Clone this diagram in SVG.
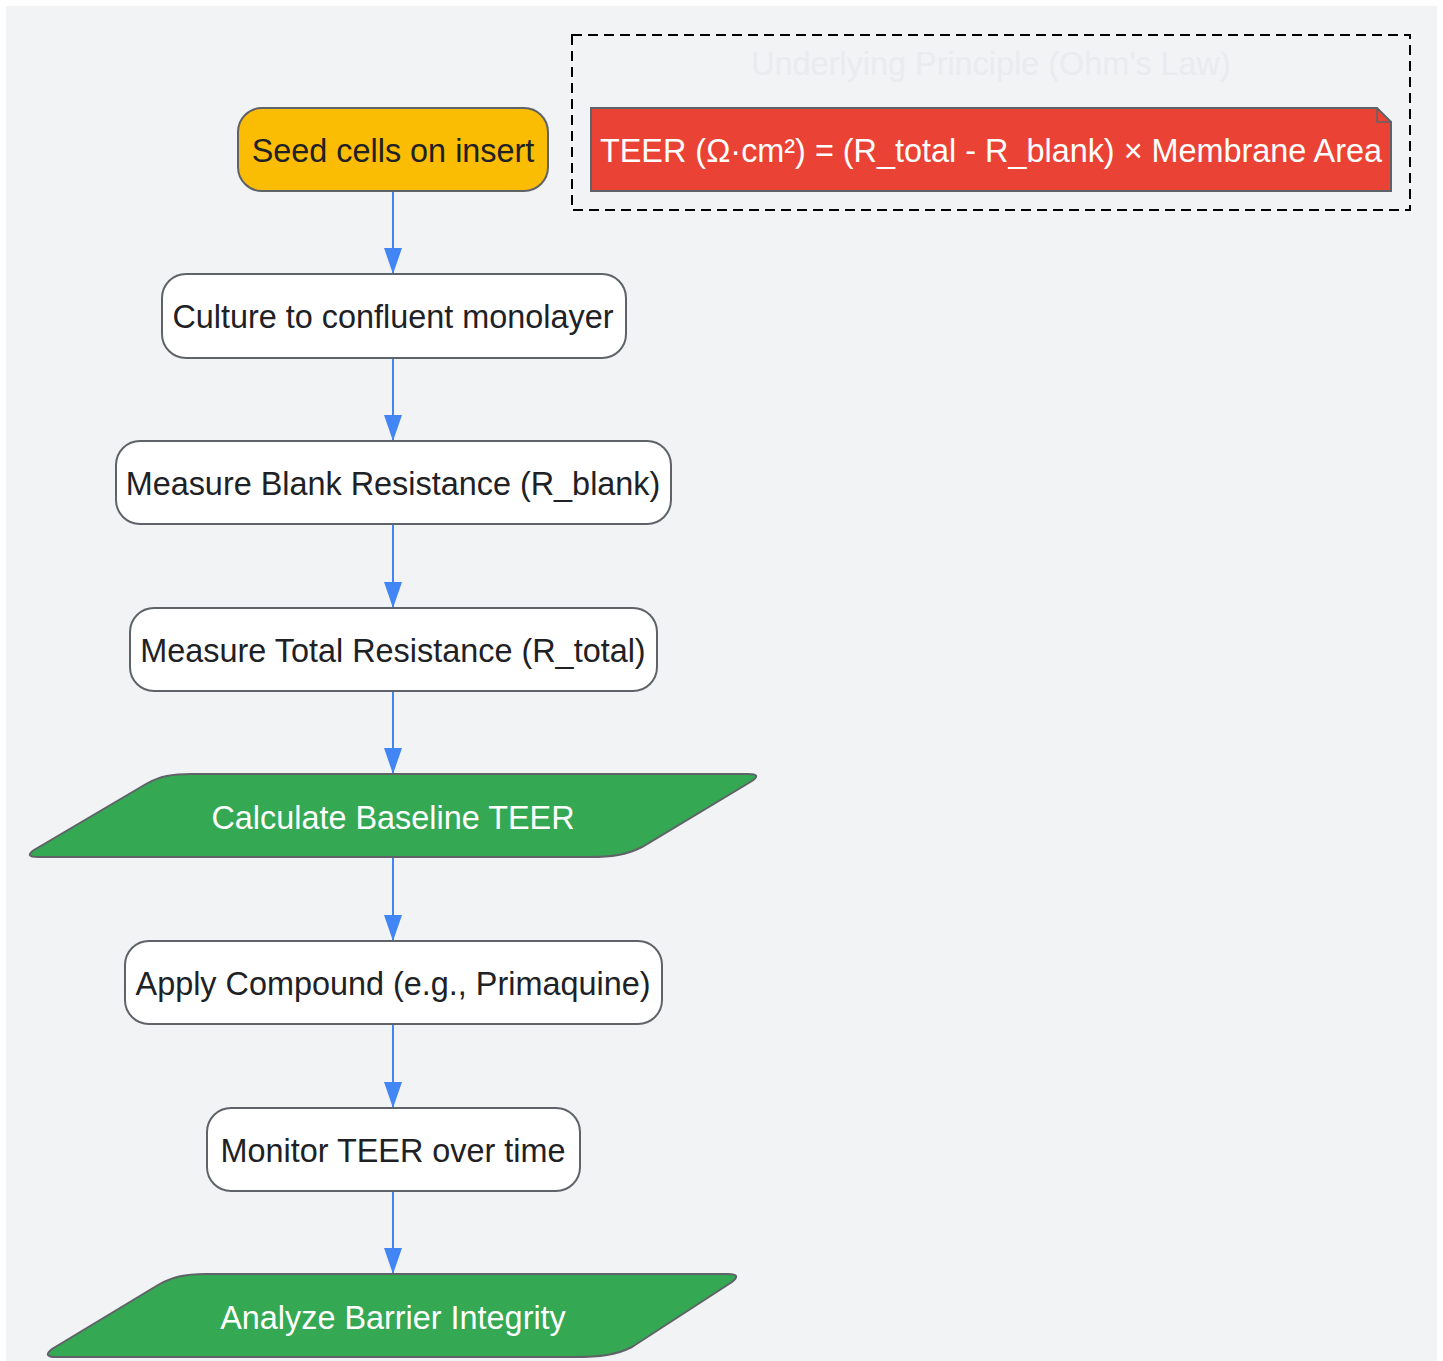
<svg xmlns="http://www.w3.org/2000/svg" width="1443" height="1361" viewBox="0 0 1443 1361">
<defs>
<style>
.bg{fill:#f1f3f5}
.node{stroke:#5f6368;stroke-width:2}
.white{fill:#ffffff}
.yellow{fill:#fbbc04}
.green{fill:#34a853}
.red{fill:#ea4335}
.t{font-family:"Liberation Sans",Arial,Helvetica,sans-serif;font-size:32.4px;text-anchor:middle}
.dark{fill:#202124}
.light{fill:#ffffff}
.edge{stroke:#4285f4;stroke-width:2;fill:none}
.cluster{fill:none;stroke:#000000;stroke-width:2;stroke-dasharray:10 6}
</style>
<marker id="arrow" markerWidth="26" markerHeight="18" refX="26" refY="9" orient="auto" markerUnits="userSpaceOnUse">
<path d="M0,0 L26,9 L0,18 Z" fill="#4285f4"/>
</marker>
</defs>
<rect x="0" y="0" width="1443" height="1361" fill="#ffffff"/>
<rect class="bg" x="6" y="6" width="1431" height="1361"/>

<g id="cluster-principle">
<rect class="cluster" x="572" y="35" width="838" height="175"/>
<text class="t" x="991" y="75" fill="#e9ebee">Underlying Principle (Ohm's Law)</text>
</g>

<g id="edges">
<line class="edge" x1="393" y1="191" x2="393" y2="274" marker-end="url(#arrow)"/>
<line class="edge" x1="393" y1="358" x2="393" y2="441" marker-end="url(#arrow)"/>
<line class="edge" x1="393" y1="524" x2="393" y2="608" marker-end="url(#arrow)"/>
<line class="edge" x1="393" y1="691" x2="393" y2="774" marker-end="url(#arrow)"/>
<line class="edge" x1="393" y1="857" x2="393" y2="941" marker-end="url(#arrow)"/>
<line class="edge" x1="393" y1="1024" x2="393" y2="1108" marker-end="url(#arrow)"/>
<line class="edge" x1="393" y1="1191" x2="393" y2="1274" marker-end="url(#arrow)"/>
</g>

<g id="node-note">
<path class="node red" d="M591,108 L1377,108 L1391,122 L1391,191 L591,191 Z"/>
<path d="M1377,108 L1377,122 L1391,122" fill="none" stroke="#5f6368" stroke-width="1.5"/>
<text class="t light" x="991" y="162">TEER (Ω·cm²) = (R_total - R_blank) × Membrane Area</text>
</g>

<g id="node-seed">
<rect class="node yellow" x="238" y="108" width="310" height="83" rx="24" ry="24"/>
<text class="t dark" x="393" y="162">Seed cells on insert</text>
</g>

<g id="node-culture">
<rect class="node white" x="162" y="274" width="464" height="84" rx="24" ry="24"/>
<text class="t dark" x="393" y="328">Culture to confluent monolayer</text>
</g>

<g id="node-blank">
<rect class="node white" x="116" y="441" width="555" height="83" rx="24" ry="24"/>
<text class="t dark" x="393" y="495">Measure Blank Resistance (R_blank)</text>
</g>

<g id="node-total">
<rect class="node white" x="130" y="608" width="527" height="83" rx="24" ry="24"/>
<text class="t dark" x="393" y="662">Measure Total Resistance (R_total)</text>
</g>

<g id="node-baseline">
<path class="node green" d="M192,774 L748,774 Q762,774 752,781 L642,847 C626,855 612,857 590,857 L38,857 Q24,857 34,850 L146,784 C160,776 172,774 192,774 Z"/>
<text class="t light" x="393" y="829">Calculate Baseline TEER</text>
</g>

<g id="node-apply">
<rect class="node white" x="125" y="941" width="537" height="83" rx="24" ry="24"/>
<text class="t dark" x="393" y="995">Apply Compound (e.g., Primaquine)</text>
</g>

<g id="node-monitor">
<rect class="node white" x="207" y="1108" width="373" height="83" rx="24" ry="24"/>
<text class="t dark" x="393" y="1162">Monitor TEER over time</text>
</g>

<g id="node-analyze">
<path class="node green" d="M206,1274 L728,1274 Q742,1274 732,1282 L632,1347 C616,1355 600,1357 575,1357 L56,1357 Q42,1357 52,1349 L158,1285 C172,1277 184,1274 206,1274 Z"/>
<text class="t light" x="393" y="1329">Analyze Barrier Integrity</text>
</g>
</svg>
